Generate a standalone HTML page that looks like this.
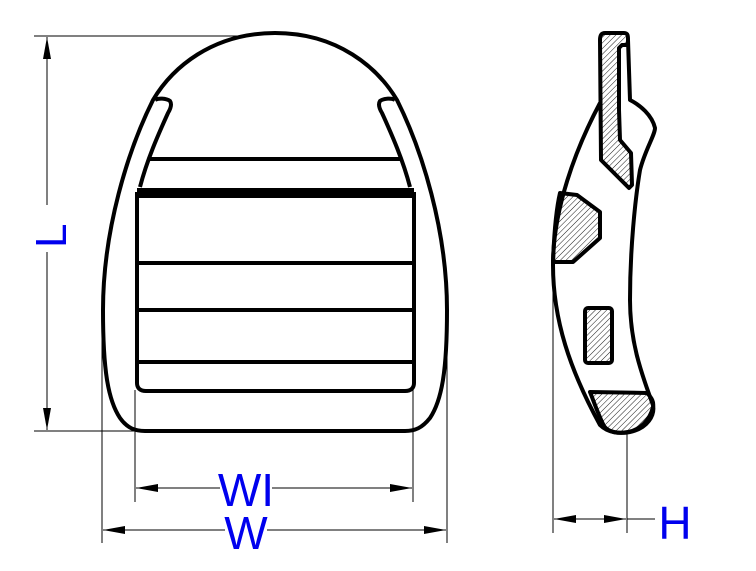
<!DOCTYPE html>
<html><head><style>html,body{margin:0;padding:0;background:#fff}svg{display:block}</style></head>
<body>
<svg width="756" height="571" viewBox="0 0 756 571" xmlns="http://www.w3.org/2000/svg">
<defs>
<pattern id="h" width="4" height="4" patternUnits="userSpaceOnUse" patternTransform="rotate(45)">
<line x1="0" y1="0" x2="0" y2="4" stroke="#000" stroke-width="0.9"/>
</pattern>
<marker id="a" viewBox="0 0 10 6" refX="10" refY="3" markerWidth="22" markerHeight="8" markerUnits="userSpaceOnUse" orient="auto-start-reverse" preserveAspectRatio="none">
<path d="M0,0 L10,3 L0,6z" fill="#000"/></marker>
</defs>
<g stroke="#000" stroke-width="1" fill="none">
<line x1="34" y1="36" x2="250" y2="36"/>
<line x1="34" y1="431" x2="140" y2="431"/>
<line x1="47" y1="37" x2="47" y2="205" marker-start="url(#a)"/>
<line x1="47" y1="252" x2="47" y2="430" marker-end="url(#a)"/>
<line x1="102" y1="300" x2="102" y2="543"/>
<line x1="447" y1="300" x2="447" y2="543"/>
<line x1="135" y1="390" x2="135" y2="502"/>
<line x1="413" y1="390" x2="413" y2="502"/>
<line x1="136" y1="488" x2="220" y2="488" marker-start="url(#a)"/>
<line x1="272" y1="488" x2="412" y2="488" marker-end="url(#a)"/>
<line x1="103" y1="530" x2="225" y2="530" marker-start="url(#a)"/>
<line x1="267" y1="530" x2="446" y2="530" marker-end="url(#a)"/>
<line x1="553" y1="265" x2="553" y2="533"/>
<line x1="627" y1="420" x2="627" y2="533"/>
<line x1="554" y1="519" x2="590" y2="519" marker-start="url(#a)"/>
<line x1="590" y1="519" x2="626" y2="519" marker-end="url(#a)"/>
<line x1="627" y1="519" x2="655" y2="519"/>
</g>
<g fill="#0000ee" font-family="Liberation Sans, sans-serif">
<text x="0" y="0" font-size="44" transform="translate(66,248) rotate(-90)">L</text>
<text x="246" y="506" font-size="46" text-anchor="middle">WI</text>
<text x="246" y="549" font-size="46" text-anchor="middle">W</text>
<text x="675" y="539" font-size="46" text-anchor="middle">H</text>
</g>
<g stroke="#000" stroke-width="4" fill="none" stroke-linejoin="round">
<path d="M275,33 C212,33 172,68 153,100 C128,150 103,230 103,310 C103,370 108,400 120,418 C127,428 135,431 145,431 L405,431 C415,431 422,428 430,418 C442,400 447,370 447,310 C447,230 422,150 397,100 C378,68 338,33 275,33Z"/>
<path d="M155,100 C158,98 166,98 170,101 C172,104 171,108 168,113 C158,135 147,160 140,187"/>
<path d="M395,100 C392,98 384,98 380,101 C378,104 379,108 382,113 C392,135 403,160 410,187"/>
<line x1="150" y1="159" x2="402" y2="159"/>
<path d="M137,192 L137,383 C137,388 140,391 146,391 L405,391 C411,391 414,388 414,383 L414,192"/>
<line x1="138" y1="263" x2="413" y2="263"/>
<line x1="138" y1="310" x2="413" y2="310"/>
<line x1="138" y1="362" x2="413" y2="362"/>
</g>
<line x1="137" y1="193" x2="414" y2="193" stroke="#000" stroke-width="10"/>
<g stroke="#000" stroke-width="4" stroke-linejoin="round">
<path fill="#fff" d="M600,103 C575,150 553,210 553,265 C553,320 570,370 600,425 C608,433 620,434 630,432 C648,428 655,415 653,405 C640,370 630,340 630,300 C630,250 635,200 640,170 C645,150 655,135 655,128 C652,115 640,105 630,100 L628,40"/>
<path fill="url(#h)" d="M605,33 L624,33 C628,33 628,36 628,40 L628,45 L622,45 L619,48 L619,110 L620,140 L631,153 L632,185 L629,188 L601,160 L600,40 C600,36 601,33 605,33Z"/>
<path fill="url(#h)" d="M560,193 L577,195 L600,212 L600,238 L573,262 L553,262 C554,235 556,210 560,193Z"/>
<rect x="585" y="308" width="27" height="55" rx="3" fill="url(#h)"/>
<path fill="url(#h)" d="M590,392 L647,393 C652,398 654,402 653,407 C650,420 640,430 628,432 C618,434 608,432 604,426 C598,414 594,402 590,392Z"/>
</g>
</svg>
</body></html>
